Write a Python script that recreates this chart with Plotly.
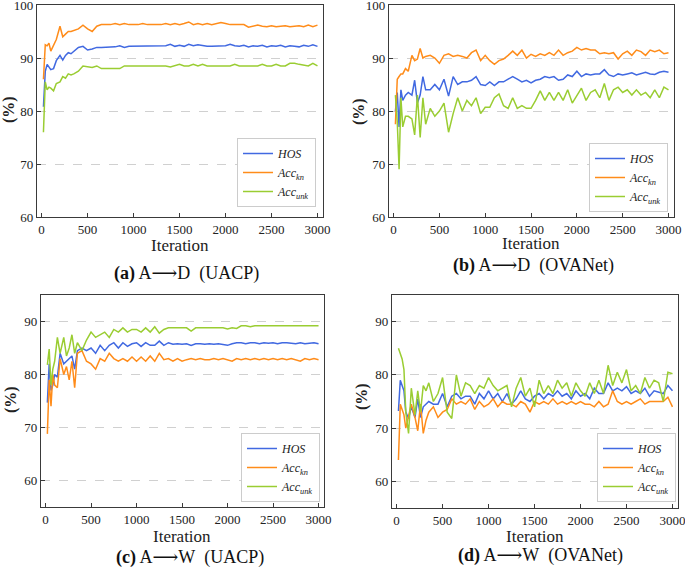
import plotly.graph_objects as go

FONT = "Liberation Serif"
BLUE = "#4169e1"
ORANGE = "#ff8c1a"
GREEN = "#9acd32"

iterations = [20, 40, 60, 80, 100, 130, 160, 200, 230, 260, 290, 320, 350] + list(range(400, 3001, 50))

# (a) A->D (UACP)
a_hos = [80.8, 87.5, 88.8, 88.2, 87.8, 88.0, 89.5, 90.5, 89.6, 90.5, 91.0, 90.8, 91.2,
         92.0, 92.2, 91.5, 91.7, 92.0, 92.0, 92.0, 92.0, 92.1, 92.3, 92.0, 92.2,
         92.2, 92.2, 92.2, 92.2, 92.2, 92.2, 92.2, 92.3, 92.6, 92.2,
         92.4, 92.2, 92.6, 92.3, 92.5, 92.3, 92.2, 92.2, 92.2, 92.3,
         92.3, 92.6, 92.3, 92.2, 92.4, 92.1, 92.3, 92.2, 92.4, 92.1,
         92.3, 92.2, 92.4, 92.1, 92.3, 92.2, 92.1, 92.4, 92.2, 92.5, 92.2]
a_kn = [86.0, 92.5, 92.3, 92.8, 91.3, 92.5, 93.5, 96.0, 94.0, 94.5, 95.0, 95.0, 95.2,
        95.5, 96.2, 95.5, 95.0, 96.0, 96.3, 96.3, 96.3, 96.5, 96.3, 96.5, 96.3,
        96.3, 96.3, 96.5, 96.3, 96.3, 96.3, 96.3, 96.5, 96.3, 96.5,
        96.3, 96.5, 96.8, 96.3, 96.5, 96.3, 96.5, 96.3, 96.5, 96.7,
        96.5, 96.3, 96.3, 96.3, 96.3, 95.8, 96.0, 96.2, 96.0, 95.9,
        96.1, 95.9, 96.0, 96.1, 95.9, 96.0, 96.1, 95.9, 96.2, 95.9, 96.2]
a_unk = [76.0, 85.5, 84.0, 84.5, 84.3, 83.8, 85.2, 85.5, 86.5, 86.2, 87.0, 86.8, 87.0,
         87.5, 88.5, 88.3, 88.2, 88.5, 88.0, 88.0, 88.0, 88.0, 88.0, 88.5, 88.5,
         88.5, 88.5, 88.5, 88.5, 88.5, 88.5, 88.5, 88.5, 88.3, 88.5,
         88.8, 88.5, 88.5, 88.8, 88.5, 88.8, 88.5, 88.5, 88.5, 88.5,
         88.5, 88.5, 88.8, 88.5, 88.5, 88.5, 88.5, 88.5, 88.8, 88.5,
         88.5, 88.8, 88.5, 88.5, 89.0, 89.0, 88.8, 88.7, 88.5, 89.0, 88.5]

# (b) A->D (OVANet)
b_hos = [80.0, 83.5, 77.0, 84.0, 82.0, 83.0, 83.5, 83.0, 85.8, 81.5, 83.0, 86.5, 84.0,
         84.0, 85.0, 84.0, 86.0, 82.8, 86.5, 85.0, 85.5, 85.5, 85.8, 86.5, 85.0,
         84.8, 85.5, 84.8, 85.5, 85.5, 86.0, 86.5, 86.0, 85.5, 85.8,
         85.3, 85.8, 86.0, 86.5, 86.3, 86.5, 85.8, 86.0, 86.8, 86.5,
         87.5, 86.5, 87.0, 86.8, 87.0, 87.0, 87.8, 86.8, 86.5, 87.0,
         86.8, 87.0, 87.2, 86.8, 87.0, 87.3, 87.0, 86.9, 87.3, 87.5, 87.3]
b_kn = [77.5, 86.0, 86.5, 87.0, 87.0, 88.0, 87.5, 90.5, 89.5, 89.8, 91.8, 90.0, 90.3,
        90.5, 90.0, 89.0, 90.5, 90.8, 90.3, 90.5, 90.3, 90.0, 91.0, 91.5, 89.5,
        90.5, 89.5, 88.8, 89.5, 89.8, 90.5, 91.3, 90.5, 91.5, 90.0,
        90.7, 90.3, 90.8, 90.5, 91.0, 90.5, 91.5, 90.5, 91.0, 91.3,
        92.0, 91.5, 91.8, 91.5, 91.5, 90.8, 91.0, 90.8, 91.0, 89.8,
        90.8, 91.3, 90.5, 91.5, 91.2, 90.5, 91.5, 91.2, 91.5, 90.8, 91.0]
b_unk = [83.0, 78.0, 69.0, 82.5, 77.0, 79.0, 79.0, 78.5, 75.5, 83.0, 75.0, 82.5, 77.5,
         80.5, 79.0, 80.0, 81.5, 76.0, 79.5, 82.5, 80.0, 82.0, 81.0, 82.5, 79.5,
         80.7, 80.7, 82.5, 83.2, 81.0, 80.5, 82.5, 80.5, 81.0, 80.5,
         80.5, 82.0, 83.8, 82.0, 83.5, 82.0, 83.5, 82.0, 84.0, 81.5,
         83.0, 84.3, 82.0, 83.5, 84.0, 82.5, 85.2, 82.0, 84.0, 84.5,
         83.5, 84.0, 83.0, 84.0, 83.0, 83.5, 82.5, 84.0, 82.5, 84.5, 84.0]

# (c) A->W (UACP)
c_hos = [74.7, 82.0, 77.0, 78.0, 80.0, 79.5, 84.0, 82.0, 82.5, 83.0, 83.5, 81.0, 84.5,
         85.0, 84.5, 85.0, 84.0, 85.5, 84.5, 85.5, 86.0, 85.0, 86.0, 85.3, 85.8,
         86.0, 85.3, 86.0, 85.5, 85.5, 86.3, 85.5, 86.0, 85.7, 85.8,
         85.7, 85.8, 85.5, 85.8, 85.8, 85.7, 85.8, 85.7, 85.8, 85.6,
         85.5, 85.8, 86.0, 86.0, 85.8, 86.0, 86.0, 85.8, 86.0, 85.9,
         86.0, 85.8, 86.0, 86.0, 85.9, 85.8, 86.0, 85.8, 85.9, 86.0, 85.8]
c_kn = [68.8, 79.0, 74.0, 80.0, 78.0, 77.5, 83.0, 80.0, 81.5, 79.0, 82.5, 77.5, 84.0,
        84.5, 82.5, 82.0, 81.0, 83.0, 82.5, 84.0, 83.0, 82.5, 83.0, 82.5, 83.3,
        82.5, 83.3, 82.5, 83.5, 82.5, 84.0, 82.8, 83.0, 82.5, 83.0,
        82.5, 82.8, 83.0, 82.8, 83.0, 82.8, 82.8, 83.0, 82.8, 83.0,
        82.8, 82.5, 83.0, 82.8, 83.0, 82.8, 83.0, 82.8, 83.0, 82.8,
        83.0, 82.8, 83.0, 82.8, 83.0, 82.8, 82.5, 83.0, 82.8, 83.0, 82.8]
c_unk = [81.8, 84.8, 78.0, 81.0, 82.5, 87.0, 84.0, 87.0, 83.5, 85.0, 87.5, 84.0, 86.0,
         84.5, 86.5, 88.0, 87.0, 87.5, 88.0, 87.0, 88.5, 88.0, 88.8, 88.0, 88.5,
         88.5, 88.0, 88.8, 88.0, 89.0, 87.8, 88.5, 88.8, 88.8, 88.8,
         88.8, 88.8, 88.2, 88.8, 88.8, 88.8, 88.8, 88.8, 88.8, 88.8,
         88.6, 88.8, 88.7, 89.2, 89.2, 89.0, 89.2, 89.2, 89.2, 89.2,
         89.2, 89.2, 89.2, 89.2, 89.2, 89.2, 89.2, 89.2, 89.2, 89.2, 89.2]

# (d) A->W (OVANet)
d_hos = [73.2, 79.0, 78.0, 77.0, 73.0, 71.8, 74.0, 72.0, 75.5, 72.0, 74.0, 74.5, 75.0,
         74.5, 74.5, 76.5, 74.0, 76.0, 76.5, 75.5, 76.0, 76.0, 74.5, 76.5, 75.5,
         77.0, 75.5, 76.5, 75.0, 76.5, 74.5, 75.5, 77.0, 75.5, 75.0,
         76.0, 76.5, 75.5, 76.5, 76.0, 77.0, 76.0, 76.5, 75.5, 77.0,
         76.0, 76.5, 75.5, 77.5, 76.5, 76.5, 78.5, 77.0, 77.5, 77.0,
         77.8, 76.5, 77.0, 76.5, 77.5, 76.0, 77.0, 76.8, 76.5, 78.0, 77.0]
d_kn = [64.0, 74.5, 73.5, 72.5, 70.0, 72.0, 74.5, 72.0, 69.5, 74.5, 69.0, 71.5, 73.0,
        74.0, 72.0, 73.0, 73.5, 75.5, 74.5, 75.0, 74.5, 75.5, 73.5, 75.0, 74.0,
        74.5, 75.5, 74.0, 75.0, 74.5, 74.5, 74.0, 75.0, 74.5, 73.0,
        75.0, 74.5, 75.0, 74.5, 75.5, 74.5, 75.0, 74.5, 75.0, 74.5,
        75.0, 74.5, 74.5, 74.0, 75.0, 74.0, 74.5, 77.0, 75.0, 74.5,
        75.0, 74.5, 75.0, 75.5, 74.5, 75.0, 75.0, 75.0, 75.0, 75.8, 74.0]
d_unk = [85.0, 84.0, 83.0, 81.0, 73.0, 69.0, 77.5, 72.5, 77.0, 73.0, 78.0, 77.0, 78.5,
         75.0, 76.5, 79.5, 73.0, 71.8, 80.0, 76.0, 78.5, 78.0, 76.5, 78.0, 77.5,
         79.5, 78.0, 77.0, 77.5, 78.0, 74.0, 77.5, 79.5, 76.0, 77.5,
         74.0, 79.0, 76.5, 78.0, 76.5, 79.0, 77.5, 78.5, 76.0, 78.5,
         77.0, 76.0, 78.5, 76.5, 79.0, 76.5, 81.8, 78.0, 80.5, 78.5,
         81.0, 77.0, 78.0, 76.5, 79.5, 77.5, 79.0, 78.5, 75.0, 80.5, 80.2]

series_names = ["<i>HOS</i>", "<i>Acc<sub>kn</sub></i>", "<i>Acc<sub>unk</sub></i>"]
ARROW = "<span style='font-family:DejaVu Serif'>\u27f6</span>"
captions = [f"<b>(a)</b> A{ARROW}D\u00a0\u00a0(UACP)", f"<b>(b)</b> A{ARROW}D\u00a0\u00a0(OVANet)",
            f"<b>(c)</b> A{ARROW}W\u00a0\u00a0(UACP)", f"<b>(d)</b> A{ARROW}W\u00a0\u00a0(OVANet)"]

W, H = 685, 573
# panel geometry in pixels: (left, right, top, bottom)
panels = [(37, 323, 5, 217), (389, 674, 5, 217), (41, 324, 295, 507), (392, 678, 295, 508)]
yranges = [[60, 100], [60, 100], [55, 95], [55, 95]]
ytick_vals = [[60, 70, 80, 90, 100], [60, 70, 80, 90, 100], [60, 70, 80, 90], [60, 70, 80, 90]]
data = [(a_hos, a_kn, a_unk), (b_hos, b_kn, b_unk), (c_hos, c_kn, c_unk), (d_hos, d_kn, d_unk)]
legend_pos = [(316, 207), (668, 212), (320, 502), (676, 502)]
ytitle_pos = [(9, 110), (359, 112), (11, 400), (362, 397)]
iter_pos = [(180, 245), (531, 244), (182, 536), (535, 536)]
cap_pos = [(187, 273), (533, 265), (190, 557), (540, 555)]

fig = go.Figure()
colors = [BLUE, ORANGE, GREEN]
annotations = []
for i in range(4):
    sfx = "" if i == 0 else str(i + 1)
    lg = "legend" if i == 0 else f"legend{i+1}"
    for k in range(3):
        fig.add_trace(go.Scatter(
            x=iterations, y=data[i][k], mode="lines", name=series_names[k],
            line=dict(color=colors[k], width=1.5),
            xaxis="x" + sfx, yaxis="y" + sfx, legend=lg))
    l, r, t, b = panels[i]
    axcommon = dict(showline=True, linecolor="#3a3a3a", linewidth=1.3, mirror=True,
                    ticks="inside", ticklen=4, tickcolor="#3a3a3a", zeroline=False,
                    automargin=False, ticklabeloverflow="allow",
                    tickfont=dict(family=FONT, size=13, color="#222"))
    fig.update_layout(**{
        "xaxis" + sfx: dict(domain=[l / W, r / W], range=[-50, 3060], tickvals=[0, 500, 1000, 1500, 2000, 2500, 3000],
                            showgrid=False, anchor="y" + sfx, **axcommon),
        "yaxis" + sfx: dict(domain=[1 - b / H, 1 - t / H], range=yranges[i], tickvals=ytick_vals[i],
                            showgrid=True, gridcolor="#d0d0d0", griddash="dash", gridwidth=0.8,
                            anchor="x" + sfx, **axcommon),
        lg: dict(x=legend_pos[i][0] / W, y=1 - legend_pos[i][1] / H, xanchor="right", yanchor="bottom",
                 xref="paper", yref="paper", bgcolor="white", bordercolor="#cccccc", borderwidth=1,
                 font=dict(family=FONT, size=12, color="#222"), itemwidth=30, tracegroupgap=0),
    })
    px_, py_ = ytitle_pos[i]
    annotations.append(dict(x=px_ / W, y=1 - py_ / H, xref="paper", yref="paper", text="<b>(%)</b>",
                            textangle=-90, showarrow=False, font=dict(family=FONT, size=16, color="#222"),
                            xanchor="center", yanchor="middle"))
    ix, iy = iter_pos[i]
    annotations.append(dict(x=ix / W, y=1 - iy / H, xref="paper", yref="paper", text="Iteration",
                            showarrow=False, font=dict(family=FONT, size=17, color="#222"),
                            xanchor="center", yanchor="middle"))
    cx, cy = cap_pos[i]
    annotations.append(dict(x=cx / W, y=1 - cy / H, xref="paper", yref="paper", text=captions[i],
                            showarrow=False, font=dict(family=FONT, size=18, color="#111"),
                            xanchor="center", yanchor="middle"))

fig.update_layout(width=W, height=H, margin=dict(l=0, r=0, t=0, b=0),
                  paper_bgcolor="white", plot_bgcolor="white",
                  annotations=annotations, showlegend=True,
                  font=dict(family=FONT))
fig.write_html("out.html", config={"displayModeBar": False},
               post_script="document.body.style.margin='0px';document.body.style.overflow='hidden';")
